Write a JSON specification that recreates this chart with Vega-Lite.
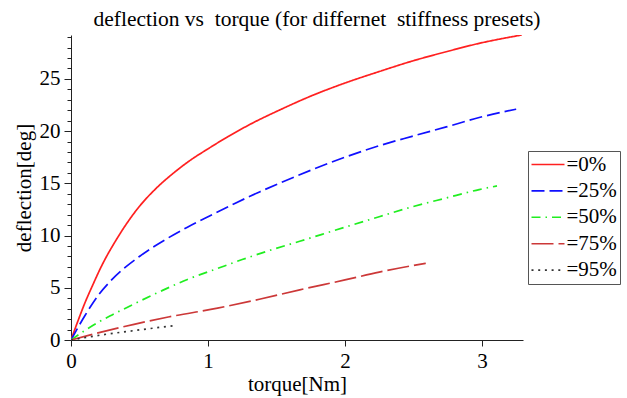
{
  "$schema": "https://vega.github.io/schema/vega-lite/v6.json",
  "width": 452,
  "height": 305,
  "autosize": "none",
  "padding": {"left": 71, "top": 35, "right": 104, "bottom": 58},
  "background": "white",
  "config": {
    "font": "Liberation Serif",
    "view": {"stroke": null},
    "style": {"guide-label": {"font": "Liberation Serif", "fontSize": 21, "fill": "black"}, "guide-title": {"font": "Liberation Serif", "fontSize": 21, "fill": "black"}},
    "axis": {"grid": false, "domainColor": "#222", "tickColor": "#222", "labelColor": "black", "titleColor": "black", "labelFont": "Liberation Serif", "titleFont": "Liberation Serif", "labelFontSize": 21, "titleFontSize": 21, "titleFontWeight": "normal", "labelOverlap": false, "labelBound": false, "labelFlush": false},
    "legend": {"orient": "none", "legendX": 457, "legendY": 116, "strokeColor": "#555", "fillColor": "white", "padding": 3, "symbolType": "M-2,0H2", "symbolSize": 272.25, "symbolStrokeWidth": 1.6, "symbolOffset": 6.5, "labelFont": "Liberation Serif", "labelFontSize": 21, "labelColor": "black", "labelOffset": 8, "rowPadding": 4.4, "cornerRadius": 0}
  },
  "title": {"text": "deflection vs\u00a0 torque (for differnet\u00a0 stiffness presets)", "font": "Liberation Serif", "fontSize": 21.5, "fontWeight": "normal", "color": "black", "dx": 20, "offset": -4},
  "data": {"values": [
    {"preset": "=0%", "torque": 0, "deflection": 0},
    {"preset": "=0%", "torque": 0.05, "deflection": 1.8},
    {"preset": "=0%", "torque": 0.1, "deflection": 3.5},
    {"preset": "=0%", "torque": 0.16, "deflection": 5.3},
    {"preset": "=0%", "torque": 0.22, "deflection": 7.0},
    {"preset": "=0%", "torque": 0.34, "deflection": 9.8},
    {"preset": "=0%", "torque": 0.5, "deflection": 12.8},
    {"preset": "=0%", "torque": 0.62, "deflection": 14.5},
    {"preset": "=0%", "torque": 0.75, "deflection": 16.0},
    {"preset": "=0%", "torque": 0.87, "deflection": 17.2},
    {"preset": "=0%", "torque": 1.0, "deflection": 18.3},
    {"preset": "=0%", "torque": 1.15, "deflection": 19.5},
    {"preset": "=0%", "torque": 1.33, "deflection": 20.8},
    {"preset": "=0%", "torque": 1.52, "deflection": 22.0},
    {"preset": "=0%", "torque": 1.76, "deflection": 23.4},
    {"preset": "=0%", "torque": 2.0, "deflection": 24.6},
    {"preset": "=0%", "torque": 2.25, "deflection": 25.7},
    {"preset": "=0%", "torque": 2.49, "deflection": 26.7},
    {"preset": "=0%", "torque": 2.74, "deflection": 27.6},
    {"preset": "=0%", "torque": 2.98, "deflection": 28.4},
    {"preset": "=0%", "torque": 3.29, "deflection": 29.2},
    {"preset": "=25%", "torque": 0, "deflection": 0},
    {"preset": "=25%", "torque": 0.1, "deflection": 2.3},
    {"preset": "=25%", "torque": 0.2, "deflection": 4.3},
    {"preset": "=25%", "torque": 0.3, "deflection": 5.8},
    {"preset": "=25%", "torque": 0.4, "deflection": 7.0},
    {"preset": "=25%", "torque": 0.5, "deflection": 8.0},
    {"preset": "=25%", "torque": 0.6, "deflection": 8.9},
    {"preset": "=25%", "torque": 0.7, "deflection": 9.7},
    {"preset": "=25%", "torque": 0.85, "deflection": 10.8},
    {"preset": "=25%", "torque": 1.0, "deflection": 11.8},
    {"preset": "=25%", "torque": 1.2, "deflection": 13.1},
    {"preset": "=25%", "torque": 1.38, "deflection": 14.2},
    {"preset": "=25%", "torque": 1.52, "deflection": 15.0},
    {"preset": "=25%", "torque": 1.76, "deflection": 16.3},
    {"preset": "=25%", "torque": 2.0, "deflection": 17.5},
    {"preset": "=25%", "torque": 2.25, "deflection": 18.6},
    {"preset": "=25%", "torque": 2.49, "deflection": 19.5},
    {"preset": "=25%", "torque": 2.74, "deflection": 20.4},
    {"preset": "=25%", "torque": 2.98, "deflection": 21.3},
    {"preset": "=25%", "torque": 3.25, "deflection": 22.1},
    {"preset": "=50%", "torque": 0, "deflection": 0},
    {"preset": "=50%", "torque": 0.1, "deflection": 0.9},
    {"preset": "=50%", "torque": 0.2, "deflection": 1.7},
    {"preset": "=50%", "torque": 0.3, "deflection": 2.4},
    {"preset": "=50%", "torque": 0.46, "deflection": 3.45},
    {"preset": "=50%", "torque": 0.66, "deflection": 4.7},
    {"preset": "=50%", "torque": 0.85, "deflection": 5.8},
    {"preset": "=50%", "torque": 1.07, "deflection": 6.85},
    {"preset": "=50%", "torque": 1.25, "deflection": 7.7},
    {"preset": "=50%", "torque": 1.42, "deflection": 8.45},
    {"preset": "=50%", "torque": 1.67, "deflection": 9.45},
    {"preset": "=50%", "torque": 2.0, "deflection": 10.8},
    {"preset": "=50%", "torque": 2.25, "deflection": 11.8},
    {"preset": "=50%", "torque": 2.49, "deflection": 12.75},
    {"preset": "=50%", "torque": 2.74, "deflection": 13.6},
    {"preset": "=50%", "torque": 2.98, "deflection": 14.4},
    {"preset": "=50%", "torque": 3.11, "deflection": 14.75},
    {"preset": "=75%", "torque": 0, "deflection": 0},
    {"preset": "=75%", "torque": 0.22, "deflection": 0.75},
    {"preset": "=75%", "torque": 0.46, "deflection": 1.5},
    {"preset": "=75%", "torque": 0.71, "deflection": 2.2},
    {"preset": "=75%", "torque": 1.07, "deflection": 3.05},
    {"preset": "=75%", "torque": 1.375, "deflection": 3.9},
    {"preset": "=75%", "torque": 1.67, "deflection": 4.8},
    {"preset": "=75%", "torque": 2.0, "deflection": 5.75},
    {"preset": "=75%", "torque": 2.25, "deflection": 6.5},
    {"preset": "=75%", "torque": 2.59, "deflection": 7.35},
    {"preset": "=95%", "torque": 0, "deflection": 0},
    {"preset": "=95%", "torque": 0.22, "deflection": 0.48},
    {"preset": "=95%", "torque": 0.46, "deflection": 0.9},
    {"preset": "=95%", "torque": 0.77, "deflection": 1.4}
  ]},
  "mark": {"type": "line", "strokeWidth": 1.7, "clip": true, "interpolate": "monotone"},
  "encoding": {
    "x": {"field": "torque", "type": "quantitative", "scale": {"domain": [0, 3.3], "nice": false},
      "axis": {"title": "torque[Nm]", "values": [0, 0.5, 1, 1.5, 2, 2.5, 3], "format": "d", "labelExpr": "datum.value % 1 === 0 ? datum.label : ''",
        "labelFont": "Liberation Serif", "labelFontSize": 21, "titleFont": "Liberation Serif",
        "tickSize": {"condition": {"test": "datum.value % 1 === 0", "value": 6}, "value": 3}, "labelPadding": 4, "titlePadding": 2}},
    "y": {"field": "deflection", "type": "quantitative", "scale": {"domain": [0, 29.2], "nice": false},
      "axis": {"title": "deflection[deg]", "values": [0,1,2,3,4,5,6,7,8,9,10,11,12,13,14,15,16,17,18,19,20,21,22,23,24,25,26,27,28,29], "format": "d", "labelExpr": "datum.value % 5 === 0 ? datum.label : ''",
        "labelFont": "Liberation Serif", "labelFontSize": 21, "titleFont": "Liberation Serif",
        "tickSize": {"condition": {"test": "datum.value % 5 === 0", "value": 7}, "value": 4}, "labelPadding": 4, "titlePadding": 5}},
    "color": {"field": "preset", "type": "nominal", "title": null,
      "scale": {"domain": ["=0%", "=25%", "=50%", "=75%", "=95%"], "range": ["#ff2020", "#1010ff", "#20ee20", "#cc3838", "#333333"]}},
    "strokeDash": {"field": "preset", "type": "nominal", "title": null,
      "scale": {"domain": ["=0%", "=25%", "=50%", "=75%", "=95%"], "range": [[1, 0], [13, 5], [9, 5, 1.5, 5], [22, 5], [2, 4.7]]}}
  }
}
